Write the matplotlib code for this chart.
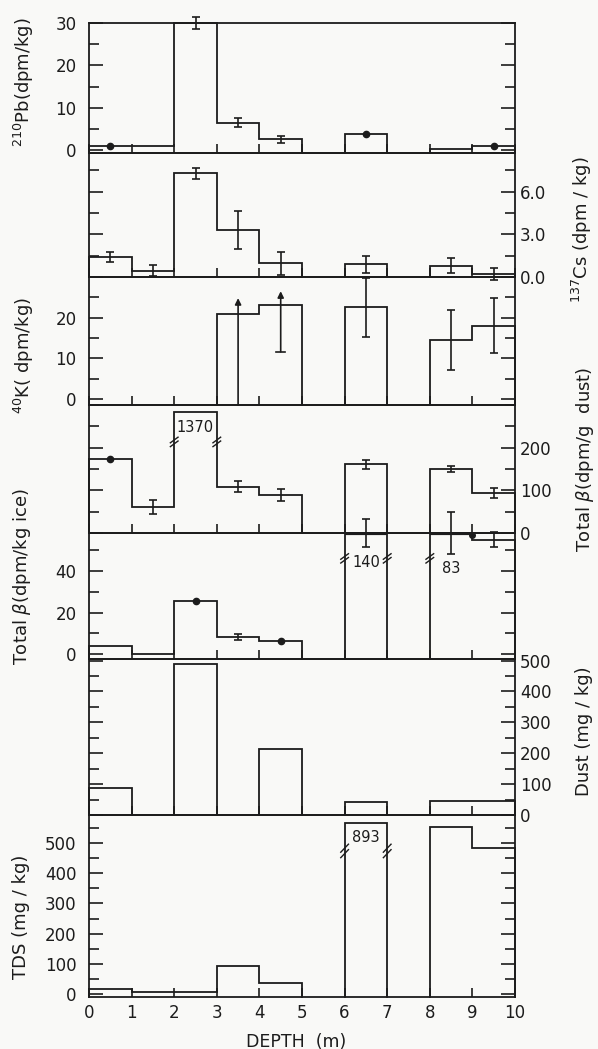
import numpy as np
import matplotlib
matplotlib.use("Agg")
import matplotlib.pyplot as plt
from matplotlib.ticker import MultipleLocator, FixedLocator

nan = np.nan
edges = np.arange(0, 11)          # depth bins, m
mid = edges[:-1] + 0.5

# 210Pb (dpm/kg)
pb = [1.0, 1.0, 30.0, 6.5, 2.5, nan, 3.9, nan, 0.2, 1.0]
pb_err = [nan, nan, 1.4, 1.0, 0.9, nan, nan, nan, nan, nan]
pb_dots = [0, 6, 9]
pb_labels = [0, 10, 20, 30]

# 137Cs (dpm/kg)
cs = [1.43, 0.45, 7.3, 3.3, 0.96, nan, 0.9, nan, 0.8, 0.2]
cs_err = [0.35, 0.38, 0.4, 1.35, 0.8, nan, 0.6, nan, 0.55, 0.4]
cs_labels = [0.0, 3.0, 6.0]

# 40K (dpm/kg)
k = [nan, nan, nan, 21.0, 23.0, nan, 22.5, nan, 14.5, 18.0]
k_err = [nan, nan, nan, nan, nan, nan, 7.2, nan, 7.5, 6.8]
k_arrow_x = [3.5, 4.5]
k_arrow_lo = [-1.5, 11.6]
k_arrow_hi = [24.8, 26.5]
k_labels = [0, 10, 20]

# Total beta (dpm/g dust)
bd = [173, 61, 1370, 108, 89, nan, 161, nan, 149, 94]
bd_err = [nan, 16, nan, 13, 13, nan, 10, nan, 7, 12]
bd_dots = [0]
bd_labels = [0, 100, 200]

# Total beta (dpm/kg ice)
bi = [4.0, 0.0, 25.6, 8.2, 6.4, nan, 140, nan, 83, 55]
bi_err = [nan, nan, nan, 1.6, nan, nan, 6.5, nan, 10, 3.6]
bi_dots = [2, 4]
bi_labels = [0, 20, 40]

# Dust (mg/kg)
dust = [87, nan, 490, nan, 213, nan, 42, nan, 45, 45]
dust_labels = [0, 100, 200, 300, 400, 500]

# TDS (mg/kg)
tds = [15, 8, 8, 93, 35, nan, 893, nan, 553, 483]
tds_labels = [0, 100, 200, 300, 400, 500]

ink = "#1c1c1c"
W, H = 598, 1049
fig = plt.figure(figsize=(W / 100, H / 100), dpi=100, facecolor="#f9f9f7")

bounds = [23, 153, 277, 405, 533, 659, 815, 997]   # panel edges, px from top
L, R = 89 / W, 515 / W
TICK_FS = 12
LAB_FS = 13


def make_ax(i, ylim):
    top, bot = bounds[i], bounds[i + 1]
    ax = fig.add_axes([L, 1 - bot / H, R - L, (bot - top) / H])
    ax.set_facecolor("none")
    ax.set_xlim(0, 10)
    ax.set_ylim(*ylim)
    for s in ax.spines.values():
        s.set_linewidth(1.3)
        s.set_color(ink)
    ax.set_xticks(edges)
    ax.tick_params(axis="x", direction="in", length=6.5, width=1.2, color=ink,
                   labelbottom=False, labelsize=TICK_FS, pad=5, labelcolor=ink)
    ax.tick_params(axis="y", which="both", direction="in", left=True, right=True,
                   width=1.2, color=ink, labelsize=TICK_FS, labelcolor=ink)
    ax.tick_params(axis="y", which="major", length=10)
    ax.tick_params(axis="y", which="minor", length=7.5)
    return ax


def ticks(ax, labels, minor, side, fmt=None):
    ax.yaxis.set_major_locator(FixedLocator(labels))
    ax.yaxis.set_minor_locator(MultipleLocator(minor))
    if side == "left":
        ax.tick_params(axis="y", labelleft=True, labelright=False, pad=9)
    else:
        ax.tick_params(axis="y", labelleft=False, labelright=True, pad=3.5)
    if fmt:
        ax.yaxis.set_major_formatter(fmt)


def steps(ax, vals, cap=None):
    base = ax.get_ylim()[0]
    i = 0
    while i < 10:
        if np.isnan(vals[i]):
            i += 1
            continue
        j = i
        xs, ys = [edges[i]], [base]
        while j < 10 and not np.isnan(vals[j]):
            v = vals[j] if cap is None else min(vals[j], cap)
            xs += [edges[j], edges[j + 1]]
            ys += [v, v]
            j += 1
        xs.append(edges[j])
        ys.append(base)
        ax.plot(xs, ys, color=ink, lw=1.3, clip_on=False, solid_joinstyle="miter")
        i = j


def errs(ax, vals, err, cap=None):
    v = np.array(vals, dtype=float)
    if cap is not None:
        v = np.minimum(v, cap)
    e = np.array(err, dtype=float)
    m = ~np.isnan(e)
    eb = ax.errorbar(mid[m], v[m], yerr=e[m], fmt="none", ecolor=ink,
                     elinewidth=1.2, capsize=3, capthick=1.2)
    for art in list(eb.lines[1]) + list(eb.lines[2]):
        art.set_clip_on(False)


def dots(ax, vals, idx):
    ax.plot(mid[idx], np.array(vals)[idx], "o", color=ink, ms=4.5, clip_on=False)


def brk(ax, x, y):
    y0, y1 = ax.get_ylim()
    d = 0.022 * (y1 - y0)
    for off in (-0.03 * (y1 - y0), 0.0):
        ax.plot([x - 0.09, x + 0.09], [y - d + off, y + d + off], color=ink, lw=1.0,
                clip_on=False)


# 210Pb
ax = make_ax(0, (-0.7, 30))
ticks(ax, pb_labels, 5, "left")
steps(ax, pb)
errs(ax, pb, pb_err)
dots(ax, pb, pb_dots)

# 137Cs
ax = make_ax(1, (0, 8.73))
ticks(ax, cs_labels, 1.5, "right", lambda v, p: f"{v:.1f}")
steps(ax, cs)
errs(ax, cs, cs_err)

# 40K
ax = make_ax(2, (-1.5, 30))
ticks(ax, k_labels, 5, "left")
steps(ax, k)
errs(ax, k, k_err)
for x, lo, hi in zip(k_arrow_x, k_arrow_lo, k_arrow_hi):
    ax.annotate("", xy=(x, hi), xytext=(x, lo),
                arrowprops=dict(arrowstyle="-|>", color=ink, lw=1.2,
                                mutation_scale=9, shrinkA=0, shrinkB=0))
ax.plot([4.4, 4.6], [k_arrow_lo[1], k_arrow_lo[1]], color=ink, lw=1.2)

# Total beta per g dust
bd_cap = 283
ax = make_ax(3, (0, 300))
ticks(ax, bd_labels, 50, "right")
steps(ax, bd, cap=bd_cap)
errs(ax, bd, bd_err)
dots(ax, bd, bd_dots)
for i in range(10):
    if bd[i] > bd_cap:
        brk(ax, edges[i], 218)
        brk(ax, edges[i + 1], 218)
        ax.text(mid[i], 248, f"{bd[i]:.0f}", ha="center", va="center",
                fontsize=10.5, color=ink)

# Total beta per kg ice
bi_cap = 58.3
ax = make_ax(4, (-2.3, 58.3))
ticks(ax, bi_labels, 10, "left")
steps(ax, bi, cap=bi_cap)
errs(ax, bi, bi_err, cap=bi_cap)
dots(ax, bi, bi_dots)
ax.plot([9.0], [57.3], "o", color=ink, ms=4, clip_on=False)
for i in range(10):
    if bi[i] > bi_cap:
        ax.hlines(bi_cap, edges[i], edges[i + 1], color=ink, lw=3)
        brk(ax, edges[i], 47)
        if i == 6:
            brk(ax, edges[i + 1], 47)
        ax.text(mid[i], 44 if i == 6 else 41, f"{bi[i]:.0f}", ha="center",
                va="center", fontsize=10.5, color=ink)

# Dust
ax = make_ax(5, (0, 505))
ticks(ax, dust_labels, 50, "right")
steps(ax, dust)

# TDS
tds_cap = 566
ax = make_ax(6, (-10, 593))
ticks(ax, tds_labels, 50, "left")
steps(ax, tds, cap=tds_cap)
for i in range(10):
    if tds[i] > tds_cap:
        brk(ax, edges[i], 483)
        brk(ax, edges[i + 1], 483)
        ax.text(mid[i], 520, f"{tds[i]:.0f}", ha="center", va="center",
                fontsize=10.5, color=ink)
ax.tick_params(axis="x", labelbottom=True)

# axis titles
lab = dict(rotation=90, ha="center", va="center", fontsize=LAB_FS, color=ink)
fig.text(24 / W, 1 - 82 / H, r"$^{210}$Pb(dpm/kg)", **lab)
fig.text(24 / W, 1 - 355 / H, r"$^{40}$K( dpm/kg)", **lab)
fig.text(22 / W, 1 - 577 / H, r"Total $\beta$(dpm/kg ice)", **lab)
fig.text(21 / W, 1 - 917 / H, "TDS (mg / kg)", **lab)
fig.text(582 / W, 1 - 230 / H, r"$^{137}$Cs (dpm / kg)", **lab)
fig.text(585 / W, 1 - 459 / H, r"Total $\beta$(dpm/g  dust)", **lab)
fig.text(584 / W, 1 - 731 / H, "Dust (mg / kg)", **lab)
fig.text(296 / W, 1 - 1042 / H, "DEPTH  (m)", ha="center", va="center",
         fontsize=12.5, color=ink)

fig.savefig("out.png", dpi=100, facecolor=fig.get_facecolor())
